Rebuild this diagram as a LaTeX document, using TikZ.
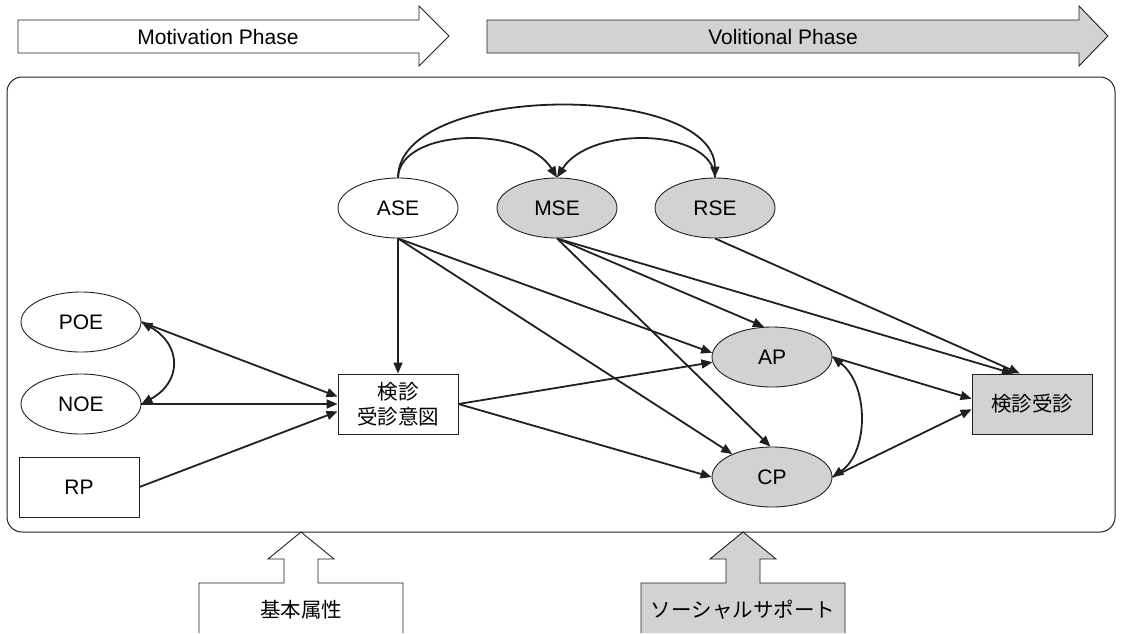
\documentclass[tikz,border=0pt]{standalone}
\usepackage{fontspec}
\setmainfont{Liberation Sans}
\newfontfamily\cjk{Noto Sans CJK JP}
\usetikzlibrary{arrows.meta,shapes.geometric}
\definecolor{fillgray}{HTML}{D1D2D4}
\definecolor{ink}{HTML}{231F20}
\begin{document}
\begin{tikzpicture}[x=1pt,y=-1pt,
  latfont/.style={font=\fontsize{21}{25}\selectfont},
  cjkfont/.style={font=\cjk\fontsize{20.5}{25}\selectfont},
  lat/.style={ellipse,draw=ink,line width=0.9pt,fill=white,minimum width=120pt,minimum height=60pt,inner sep=0pt,latfont},
  latg/.style={lat,fill=fillgray},
  obs/.style={rectangle,draw=ink,line width=0.9pt,fill=white,minimum width=120pt,minimum height=60pt,inner sep=0pt,latfont},
  conn/.style={draw=ink,line width=1.8pt,-{Triangle[length=11pt,width=9pt]}},
  bconn/.style={draw=ink,line width=1.8pt,{Triangle[length=11pt,width=9pt]}-{Triangle[length=11pt,width=9pt]}},
  shapeline/.style={draw=ink,line width=0.9pt},
  phasetext/.style={font=\fontsize{21}{25}\selectfont,inner sep=0pt}
]
\useasboundingbox (0,0) rectangle (1124,633);

% phase arrows
\draw[shapeline,fill=white] (18,20) -- (419,20) -- (419,6) -- (449,36) -- (419,66) -- (419,53) -- (18,53) -- cycle;
\node[phasetext] (motiv) at (218,37) {Motivation Phase};
\draw[shapeline,fill=fillgray] (487,20) -- (1079,20) -- (1079,6) -- (1108,36) -- (1079,66) -- (1079,53) -- (487,53) -- cycle;
\node[phasetext] (volit) at (783,37) {Volitional Phase};

% frame
\draw[ink,line width=1pt,rounded corners=15pt] (7,77) rectangle (1115,532);

% nodes
\node[lat] (ase) at (398,208) {ASE};
\node[latg] (mse) at (557,208) {MSE};
\node[latg] (rse) at (715,208) {RSE};
\node[lat] (poe) at (81,322) {POE};
\node[lat] (noe) at (81,404) {NOE};
\node[obs] (rp) at (79,487) {RP};
\node[obs,cjkfont,align=center] (intent) at (398,404) {検診\\受診意図};
\node[latg] (ap) at (772,357) {AP};
\node[latg] (cp) at (772,477) {CP};
\node[obs,fill=fillgray,cjkfont] (kj) at (1032,404) {検診受診};

% curved connectors
\draw[conn] (ase.north) .. controls (399,82) and (714,82) .. (rse.north);
\draw[conn] (ase.north) .. controls (400,128) and (525,125) .. (mse.north);
\draw[conn] (rse.north) .. controls (713,128) and (590,125) .. (mse.north);
\draw[bconn] (poe.east) .. controls (182,345) and (182,382) .. (noe.east);
\draw[bconn] (ap.east) .. controls (869,385) and (869,452) .. (cp.east);

% straight connectors
\draw[conn] (ase.south) -- (intent.north);
\draw[conn] (ase.south) -- (ap.176);
\draw[conn] (ase.south) -- (cp.150);
\draw[conn] (mse.south) -- (ap.105);
\draw[conn] (mse.south) -- (cp.93);
\draw[conn] (mse.south) -- (kj.122);
\draw[conn] (rse.south) -- (kj.112);
\draw[conn] (poe.east) -- (intent.173);
\draw[conn] (noe.east) -- (intent.west);
\draw[conn] (rp.east) -- (intent.187);
\draw[conn] (intent.east) -- (ap.185);
\draw[conn] (intent.east) -- (cp.west);
\draw[conn] (ap.east) -- (kj.175);
\draw[conn] (cp.east) -- (kj.185);

% bottom arrows
\draw[shapeline,fill=white] (199,633) -- (199,583) -- (284,583) -- (284,559) -- (268,559) -- (301,532) -- (334,559) -- (318,559) -- (318,583) -- (403,583) -- (403,633);
\node[cjkfont,inner sep=0pt] (kihon) at (301,610) {基本属性};
\draw[shapeline,fill=fillgray] (641,633) -- (641,583) -- (726,583) -- (726,559) -- (710,559) -- (743,532) -- (776,559) -- (760,559) -- (760,583) -- (845,583) -- (845,633);
\node[cjkfont,inner sep=0pt] (social) at (743,610) {ソーシャルサポート};
\end{tikzpicture}
\end{document}
